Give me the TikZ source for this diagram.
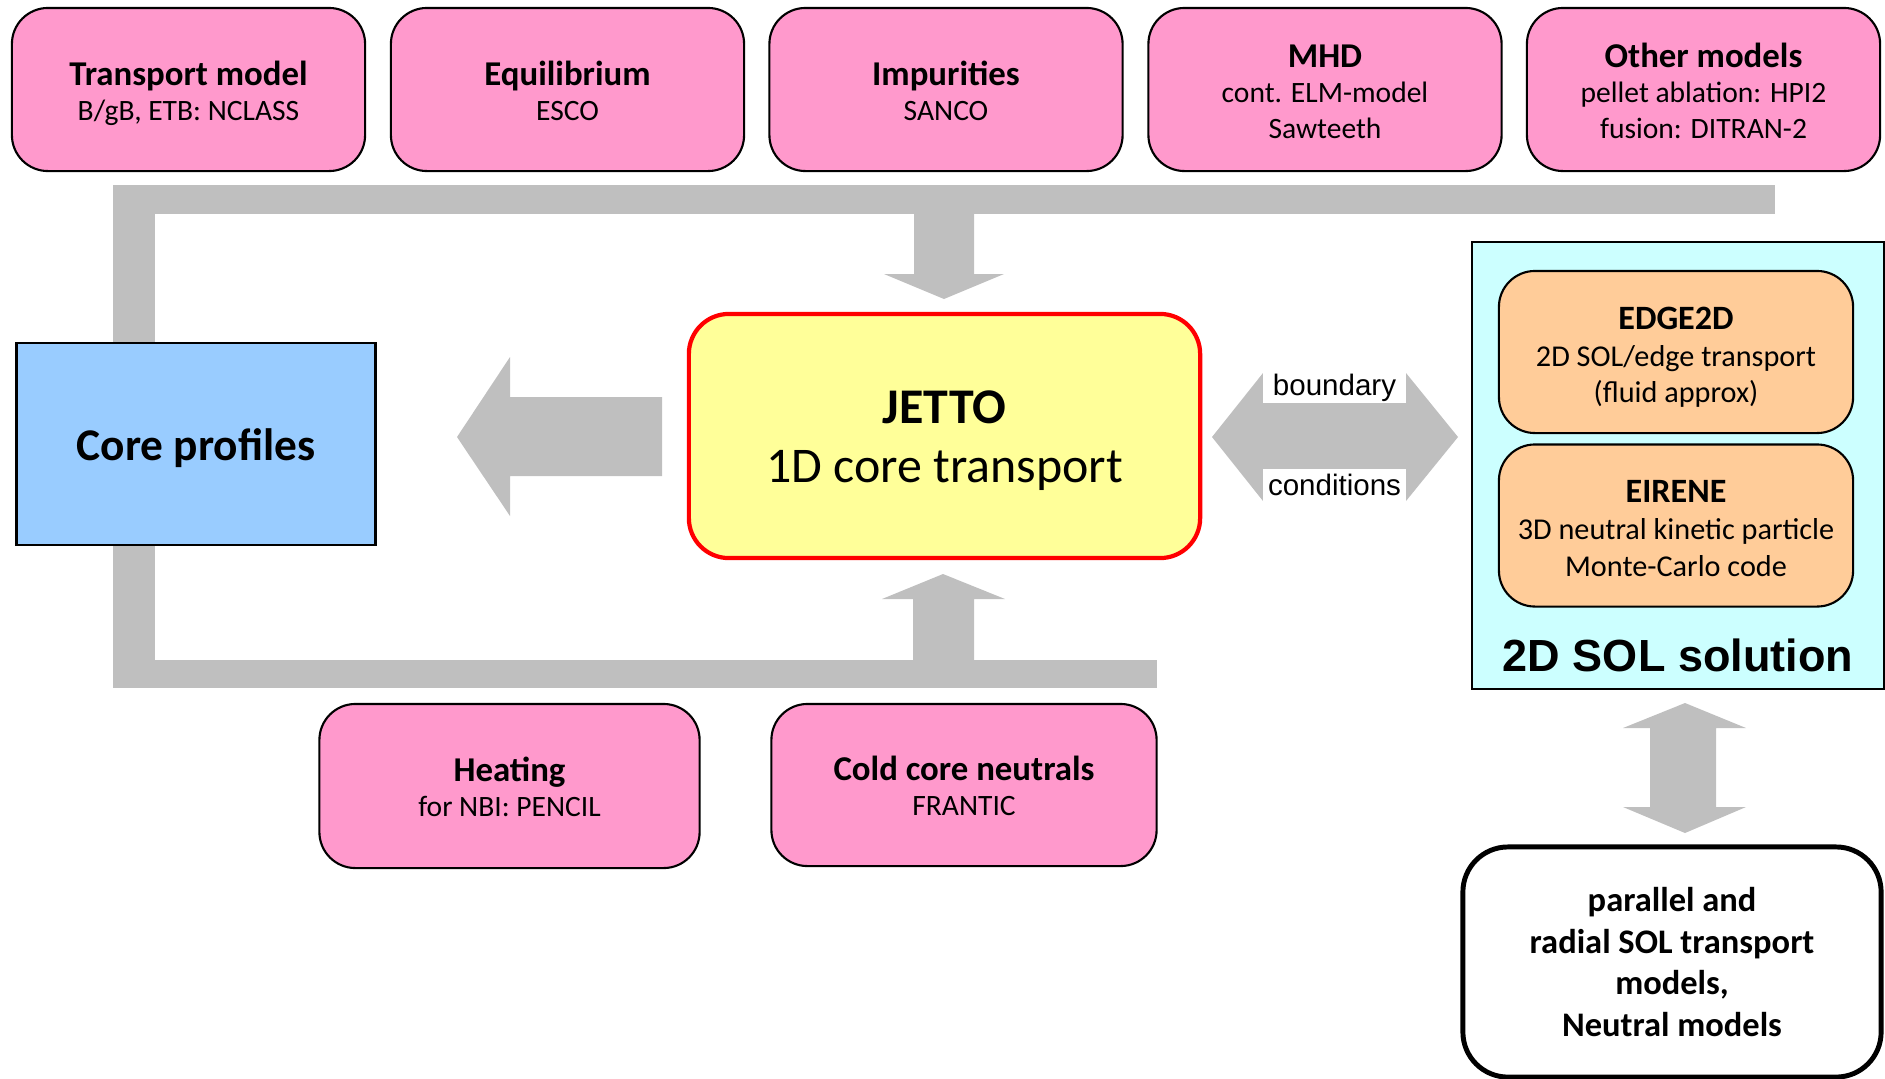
\documentclass[tikz,border=0pt]{standalone}
\usepackage{fontspec}
\setmainfont{Carlito}
\newfontfamily\arialfont{Liberation Sans}
\definecolor{pinkbox}{HTML}{FF99CC}
\definecolor{yellowbox}{HTML}{FFFF99}
\definecolor{bluebox}{HTML}{99CCFF}
\definecolor{cyanbox}{HTML}{CCFFFF}
\definecolor{orangebox}{HTML}{FFCC99}
\definecolor{flowgray}{HTML}{BFBFBF}
\newcommand{\mtitle}[1]{{\fontsize{9.9}{11}\selectfont\bfseries\rule{0pt}{10.6pt}#1}}
\newcommand{\stitle}[1]{{\fontsize{9.7}{11}\selectfont\bfseries\rule{0pt}{11.1pt}#1}}
\begin{document}
\begin{tikzpicture}[x=0.01cm,y=-0.01cm,
  model/.style={draw,line width=0.6pt,fill=pinkbox,rounded corners=0.36cm,minimum width=3.53cm,minimum height=1.63cm,align=center,font=\fontsize{8.4}{10}\selectfont,execute at end node=\strut},
  solver/.style={draw,line width=0.6pt,fill=orangebox,rounded corners=0.36cm,minimum width=3.54cm,minimum height=1.62cm,align=center,font=\fontsize{8.6}{10.4}\selectfont,execute at end node=\strut},
  flow/.style={fill=flowgray},
  bclabel/.style={fill=white,inner sep=0pt,minimum width=1.43cm,font=\arialfont\fontsize{8.4}{9}\selectfont}]
\useasboundingbox (0,0) rectangle (1885,1078);
\fill[flow] (113,185) rectangle (1775,214);
\fill[flow] (113,214) rectangle (155,343);
\fill[flow] (113,545) rectangle (155,688);
\fill[flow] (155,660) rectangle (1157,688);
\fill[flow] (914,214) -- (974,214) -- (974,274) -- (1004,274) -- (944,299) -- (884,274) -- (914,274) -- cycle;
\fill[flow] (913,660) -- (974,660) -- (974,599) -- (1005,599) -- (943,574) -- (882,599) -- (913,599) -- cycle;
\fill[flow] (662,397) -- (662,476) -- (510,476) -- (510,516) -- (457,437) -- (510,357) -- (510,397) -- cycle;
\fill[flow] (1212,437) -- (1263,373) -- (1263,403) -- (1406,403) -- (1406,373) -- (1458,437) -- (1406,501) -- (1406,469) -- (1263,469) -- (1263,501) -- cycle;
\fill[flow] (1685,703) -- (1746,728) -- (1716,728) -- (1716,807) -- (1746,807) -- (1685,833) -- (1623,807) -- (1650,807) -- (1650,728) -- (1623,728) -- cycle;
\node[model] (transport) at (188.5,89.5) {\mtitle{Transport model}\\B/gB, ETB: NCLASS};
\node[model] (equil) at (567.5,89.5) {\mtitle{Equilibrium}\\ESCO};
\node[model] (impur) at (946,89.5) {\mtitle{Impurities}\\SANCO};
\node[model] (mhd) at (1325,89.5) {\mtitle{MHD}\\cont. ELM-model\\Sawteeth};
\node[model] (other) at (1703.5,89.5) {\mtitle{Other models}\\pellet ablation: HPI2\\fusion: DITRAN-2};
\node[draw,line width=0.8pt,fill=bluebox,minimum width=3.58cm,minimum height=2.02cm,font=\fontsize{12.9}{15}\selectfont\bfseries] (core) at (196,444) {\rule{0pt}{11.3pt}Core profiles};
\node[draw=red,line width=1.2pt,fill=yellowbox,rounded corners=0.4cm,minimum width=5.11cm,minimum height=2.44cm,align=center,font=\fontsize{14.2}{16.8}\selectfont,execute at end node=\strut] (jetto) at (944.5,436) {\textbf{\rule{0pt}{14.8pt}JETTO}\\1D core transport};
\node[bclabel,minimum height=0.3cm] (bnd) at (1334.5,388) {boundary};
\node[bclabel,minimum height=0.32cm] (cond) at (1334.5,485) {conditions};
\node[draw,line width=0.6pt,fill=cyanbox,minimum width=4.12cm,minimum height=4.47cm] (sol) at (1678,465.5) {};
\node[solver] (edge) at (1676,352) {\stitle{EDGE2D}\\2D SOL/edge transport\\(fluid approx)};
\node[solver] (eirene) at (1676,525.5) {\stitle{EIRENE}\\3D neutral kinetic particle\\Monte-Carlo code};
\node[font=\arialfont\bfseries\fontsize{12.8}{14}\selectfont] (soltitle) at (1678,655) {2D SOL solution};
\node[model,minimum width=3.8cm,minimum height=1.64cm] (heating) at (509.5,786) {\mtitle{Heating}\\for NBI: PENCIL};
\node[model,minimum width=3.85cm,minimum height=1.62cm] (neutrals) at (964,785) {\mtitle{Cold core neutrals}\\FRANTIC};
\node[draw,line width=1.4pt,rounded corners=0.45cm,minimum width=4.18cm,minimum height=2.3cm,align=center,font=\fontsize{9.8}{11.8}\selectfont\bfseries] (solmodels) at (1672,962) {parallel and\\radial SOL transport\\models,\\Neutral models};
\end{tikzpicture}
\end{document}
